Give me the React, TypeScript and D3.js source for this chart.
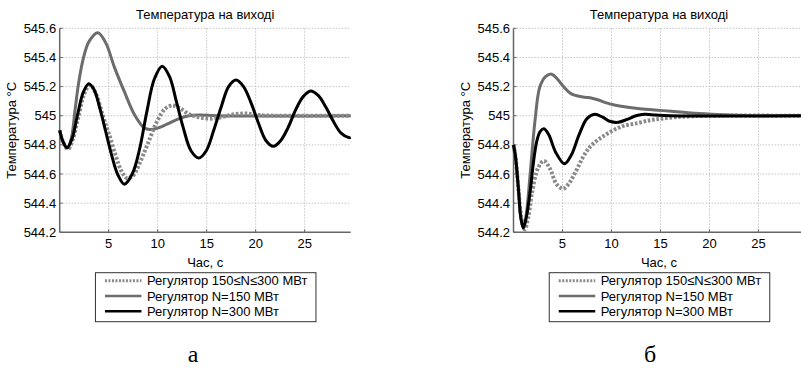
import React, { useEffect, useRef } from 'react';
import * as d3 from 'd3';

type Pt = [number, number];

// axis ticks and labels
const xTicks = [5, 10, 15, 20, 25];
const yTicks = [544.2, 544.4, 544.6, 544.8, 545, 545.2, 545.4, 545.6];
const legendLabels = ['Регулятор 150≤N≤300 МВт', 'Регулятор N=150 МВт', 'Регулятор N=300 МВт'];
const panelLetters = ['а', 'б'];
const chartTitle = 'Температура на виході';
const xTitle = 'Час, с';
const yTitle = 'Температура °C';

// panel "а" : time (s), temperature (°C)
const leftSweep: Pt[] = [
  [0, 544.9], [0.4, 544.81], [0.85, 544.77], [1.3, 544.83], [1.9, 544.99], [2.5, 545.15], [3.1, 545.21],
  [3.7, 545.15], [4.4, 545.0], [5.0, 544.88], [5.7, 544.73], [6.3, 544.62], [6.9, 544.57], [7.5, 544.59],
  [8.2, 544.68], [9.0, 544.81], [10.0, 544.97], [10.8, 545.05], [11.5, 545.07], [12.3, 545.05], [13.2, 545.01],
  [14.2, 544.99], [15.3, 544.98], [16.5, 544.99], [17.8, 545.01], [19.0, 545.015], [20.3, 545.005],
  [22, 545.0], [25, 545.0], [29.7, 545.0],
];
const left150: Pt[] = [
  [0, 544.9], [0.4, 544.81], [0.8, 544.78], [1.2, 544.85], [1.55, 545.03], [1.9, 545.21], [2.4, 545.39],
  [3.0, 545.51], [3.9, 545.57], [4.7, 545.5], [5.6, 545.33], [6.6, 545.165], [7.65, 545.005], [8.65, 544.915],
  [9.2, 544.905], [10.0, 544.915], [10.9, 544.94], [12.0, 544.975], [13.2, 545.0], [14.3, 545.005],
  [16, 545.0], [29.7, 545.0],
];
const left300: Pt[] = [
  [0, 544.9], [0.35, 544.82], [0.75, 544.78], [1.25, 544.84], [1.8, 545.0], [2.4, 545.16], [2.96, 545.22],
  [3.5, 545.18], [4.1, 545.05], [4.7, 544.89], [5.3, 544.73], [5.9, 544.6], [6.6, 544.53], [7.4, 544.6],
  [8.15, 544.77], [8.9, 545.03], [9.65, 545.25], [10.45, 545.34], [11.2, 545.27], [11.9, 545.1],
  [12.6, 544.92], [13.4, 544.76], [14.2, 544.71], [14.96, 544.76], [15.72, 544.9], [16.48, 545.06],
  [17.24, 545.2], [18.0, 545.245], [18.76, 545.2], [19.52, 545.09], [20.28, 544.95], [21.04, 544.83],
  [21.8, 544.79], [22.56, 544.83], [23.32, 544.92], [24.08, 545.04], [24.84, 545.13], [25.6, 545.17],
  [26.38, 545.14], [27.16, 545.06], [27.94, 544.96], [28.72, 544.88], [29.5, 544.85], [29.7, 544.852],
];

// panel "б"
const rightSweep: Pt[] = [
  [0, 544.8], [0.2, 544.72], [0.5, 544.5], [0.8, 544.3], [1.15, 544.22], [1.5, 544.3], [1.86, 544.46],
  [2.5, 544.64], [3.1, 544.69], [3.7, 544.64], [4.4, 544.53], [5.08, 544.5], [5.7, 544.54], [6.3, 544.61],
  [7.3, 544.74], [8.0, 544.8], [9.3, 544.865], [11.0, 544.925], [12.7, 544.95], [14, 544.97], [15.1, 544.98],
  [16.5, 544.99], [18, 544.996], [20, 545.0], [30, 545.0],
];
const right150: Pt[] = [
  [0, 544.8], [0.2, 544.72], [0.5, 544.5], [0.75, 544.3], [1.0, 544.23], [1.3, 544.32], [1.7, 544.6],
  [2.2, 544.97], [2.7, 545.2], [3.3, 545.27], [3.9, 545.285], [4.5, 545.25], [5.1, 545.2], [5.9, 545.15],
  [6.6, 545.135], [7.3, 545.127], [8.0, 545.12], [8.6, 545.11], [9.4, 545.09], [10.3, 545.074], [11.5, 545.06],
  [12.7, 545.05], [14.4, 545.04], [16.1, 545.03], [17.8, 545.02], [19.5, 545.013], [22, 545.005],
  [25, 545.0], [30, 545.0],
];
const right300: Pt[] = [
  [0, 544.8], [0.2, 544.72], [0.5, 544.5], [0.75, 544.3], [1.0, 544.23], [1.3, 544.3], [1.7, 544.48],
  [2.0, 544.66], [2.36, 544.82], [2.7, 544.89], [3.1, 544.91], [3.6, 544.87], [4.3, 544.75], [5.2, 544.67],
  [5.9, 544.73], [6.7, 544.87], [7.5, 544.98], [8.3, 545.01], [9.1, 544.99], [9.9, 544.96], [10.7, 544.955],
  [11.6, 544.975], [12.5, 545.0], [13.4, 545.01], [14.5, 545.005], [16, 545.0], [30, 545.0],
];

const FONT = '"Liberation Sans", Arial, sans-serif';

// sweep, N=150, N=300
const seriesStyle = [
  { color: '#8a8a8a', width: 4, dash: '2.6,1.8' },
  { color: '#6c6c6c', width: 3, dash: null },
  { color: '#000000', width: 3, dash: null },
];

const App = () => {
  const svgRef = useRef<SVGSVGElement>(null);

  useEffect(() => {
    const svg = d3.select(svgRef.current);
    svg.selectAll('*').remove();

    const panels = [
      { left: 59.7, series: [leftSweep, left150, left300], letter: panelLetters[0], letterX: 193 },
      { left: 513.5, series: [rightSweep, right150, right300], letter: panelLetters[1], letterX: 650 },
    ];

    panels.forEach(p => {
      const top = 28.3;
      const bottom = 232.3;
      const width = 291;
      const x = d3.scaleLinear().domain([0, 29.7]).range([p.left, p.left + width]);
      const y = d3.scaleLinear().domain([544.2, 545.6]).range([bottom, top]);
      const g = svg.append('g');

      // grid
      g.selectAll('.vg').data(xTicks).enter().append('line')
        .attr('x1', d => x(d)).attr('x2', d => x(d))
        .attr('y1', top).attr('y2', bottom)
        .attr('stroke', '#c4c4c4').attr('stroke-dasharray', '1.5,1.5');
      g.selectAll('.hg').data(yTicks.slice(1)).enter().append('line')
        .attr('x1', p.left).attr('x2', p.left + width)
        .attr('y1', d => y(d)).attr('y2', d => y(d))
        .attr('stroke', '#c4c4c4').attr('stroke-dasharray', '1.5,1.5');

      // axes
      g.append('line').attr('x1', p.left).attr('x2', p.left).attr('y1', top).attr('y2', bottom)
        .attr('stroke', '#666').attr('stroke-width', 1.5);
      g.append('line').attr('x1', p.left).attr('x2', p.left + width).attr('y1', bottom).attr('y2', bottom)
        .attr('stroke', '#666').attr('stroke-width', 1.5);
      g.selectAll('.xt').data(xTicks).enter().append('line')
        .attr('x1', d => x(d)).attr('x2', d => x(d)).attr('y1', bottom).attr('y2', bottom - 3)
        .attr('stroke', '#666');
      g.selectAll('.yt').data(yTicks).enter().append('line')
        .attr('x1', p.left).attr('x2', p.left + 3).attr('y1', d => y(d)).attr('y2', d => y(d))
        .attr('stroke', '#666');

      g.selectAll('.xl').data(xTicks).enter().append('text')
        .attr('x', d => x(d)).attr('y', bottom + 16)
        .attr('text-anchor', 'middle')
        .style('font-family', FONT).style('font-size', '13px')
        .text(d => String(d));
      g.selectAll('.yl').data(yTicks).enter().append('text')
        .attr('x', p.left - 3.5).attr('y', d => y(d) + 4.6)
        .attr('text-anchor', 'end')
        .style('font-family', FONT).style('font-size', '13px')
        .text(d => String(+d.toFixed(1)));

      const cx = p.left + width / 2;
      g.append('text').attr('x', cx).attr('y', 19).attr('text-anchor', 'middle')
        .style('font-family', FONT).style('font-size', '13px').text(chartTitle);
      g.append('text').attr('x', cx).attr('y', 266.5).attr('text-anchor', 'middle')
        .style('font-family', FONT).style('font-size', '13px').text(xTitle);
      g.append('text')
        .attr('transform', `translate(${p.left - 43.5},${(top + bottom) / 2}) rotate(-90)`)
        .attr('text-anchor', 'middle')
        .style('font-family', FONT).style('font-size', '13px').text(yTitle);

      // lines: N=150 first, then the sweep, black on top
      const line = d3.line<Pt>()
        .x(d => x(d[0]))
        .y(d => y(d[1]))
        .curve(d3.curveCatmullRom.alpha(0.5));
      [1, 0, 2].forEach(i => {
        const s = seriesStyle[i];
        const path = g.append('path')
          .datum(p.series[i])
          .attr('d', line)
          .attr('fill', 'none')
          .attr('stroke', s.color)
          .attr('stroke-width', s.width)
          .attr('stroke-linejoin', 'round');
        if (s.dash) path.attr('stroke-dasharray', s.dash);
      });

      // legend
      const bw = 220.5;
      const bx = cx - bw / 2 + 0.5;
      const lg = g.append('g');
      lg.append('rect').attr('x', bx).attr('y', 272.7).attr('width', bw).attr('height', 49)
        .attr('fill', '#fff').attr('stroke', '#333').attr('stroke-width', 1);
      legendLabels.forEach((lab, i) => {
        const s = seriesStyle[i];
        const ry = 280.7 + i * 15.3;
        const sample = lg.append('line')
          .attr('x1', bx + 9.5).attr('x2', bx + 46)
          .attr('y1', ry).attr('y2', ry)
          .attr('stroke', s.color).attr('stroke-width', i === 0 ? 3 : 2.6);
        if (s.dash) sample.attr('stroke-dasharray', '2,1.5');
        lg.append('text').attr('x', bx + 51.5).attr('y', ry + 4.6)
          .style('font-family', FONT).style('font-size', '13px').text(lab);
      });

      g.append('text').attr('x', p.letterX).attr('y', 362).attr('text-anchor', 'middle')
        .style('font-family', '"Liberation Serif", "Times New Roman", serif').style('font-size', '24px')
        .text(p.letter);
    });
  }, []);

  return (
    <svg ref={svgRef} width={801} height={368}
      style={{ position: 'absolute', left: 0, top: 0, background: '#fff', display: 'block' }} />
  );
};

export default App;
